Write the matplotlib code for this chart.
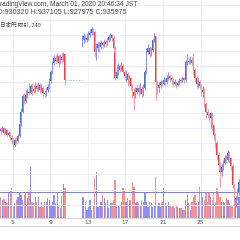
import numpy as np
import matplotlib.pyplot as plt
from matplotlib.lines import Line2D

# BTC/JPY, 4h bars, Feb 2020 (prices in thousand JPY), first bar opens Feb 3 16:00
start_day = 3 + 16 / 24
bar_days = 4 / 24

title = "TradingView.com, March 01, 2020 20:46:34 JST"
ohlc_text = "O:930320 H:937105 L:927975 C:935975"
symbol_text = "日本円 取引, 240"
day_ticks = [5, 9, 13, 17, 21, 25]

first_open = 1019
reopen = 1126  # first open after the data gap
gap_len = 10

closes_a = [1016, 1020, 1013, 1017, 1011, 1013, 1007, 1004, 998, 1004, 1003, 1010,
            1025, 1041, 1061, 1055, 1063, 1067, 1065, 1074, 1071, 1068, 1074, 1071,
            1076, 1069, 1072, 1065, 1064, 1069, 1073, 1081, 1093, 1104, 1111, 1107,
            1113, 1104, 1112, 1108, 1116, 1082]
highs_a = [1021, 1022, 1021, 1020, 1019, 1016, 1015, 1011, 1007, 1007, 1008, 1012,
           1028, 1046, 1064, 1065, 1069, 1072, 1078, 1077, 1078, 1076, 1080, 1077,
           1080, 1078, 1077, 1074, 1069, 1073, 1077, 1085, 1095, 1107, 1115, 1115,
           1117, 1115, 1116, 1119, 1119, 1117]
lows_a = [1012, 1015, 1011, 1012, 1008, 1008, 1004, 999, 991, 997, 999, 1002,
          1008, 1022, 1039, 1051, 1052, 1059, 1063, 1064, 1063, 1065, 1065, 1068,
          1068, 1065, 1067, 1061, 1060, 1061, 1067, 1071, 1078, 1090, 1102, 1103,
          1106, 1099, 1103, 1106, 1107, 1076]

closes_b = [1134, 1139, 1134, 1137, 1141, 1143, 1148, 1145, 1119, 1124, 1129, 1125,
            1130, 1128, 1131, 1129, 1134, 1138, 1141, 1137, 1124, 1085, 1093, 1100,
            1095, 1100, 1093, 1087, 1090, 1082, 1085, 1074, 1067, 1061, 1067, 1072,
            1067, 1071, 1064, 1072, 1093, 1119, 1124, 1116, 1121, 1134, 1139, 1080,
            1072, 1076, 1080, 1077, 1082, 1080, 1085, 1087, 1085, 1082, 1077, 1080,
            1076, 1078, 1082, 1081, 1085, 1082, 1106, 1107, 1106, 1108, 1104, 1095,
            1085, 1077, 1080, 1074, 1067, 1069, 1051, 1041, 1037, 1033, 1039, 1024,
            1011, 1000, 985, 972, 963, 969, 974, 981, 978, 987, 981, 971,
            946, 926, 929, 937, 950]
highs_b = [1141, 1143, 1142, 1143, 1146, 1148, 1151, 1150, 1147, 1130, 1132, 1133,
           1134, 1133, 1135, 1134, 1138, 1141, 1143, 1142, 1139, 1126, 1102, 1104,
           1103, 1106, 1103, 1095, 1095, 1093, 1089, 1086, 1077, 1072, 1073, 1077,
           1076, 1078, 1074, 1077, 1095, 1124, 1129, 1126, 1125, 1137, 1143, 1139,
           1082, 1080, 1082, 1082, 1086, 1085, 1089, 1093, 1090, 1087, 1085, 1084,
           1081, 1082, 1085, 1085, 1087, 1086, 1108, 1116, 1112, 1113, 1112, 1117,
           1098, 1089, 1085, 1082, 1077, 1074, 1072, 1054, 1045, 1041, 1041, 1039,
           1024, 1013, 1003, 989, 976, 974, 978, 985, 985, 991, 990, 982,
           973, 948, 932, 942, 954]
lows_b = [1125, 1130, 1131, 1131, 1134, 1138, 1141, 1141, 1112, 1108, 1119, 1119,
          1122, 1124, 1125, 1125, 1128, 1131, 1134, 1133, 1119, 1082, 1085, 1089,
          1093, 1095, 1090, 1082, 1080, 1074, 1077, 1069, 1059, 1043, 1059, 1064,
          1061, 1064, 1060, 1061, 1069, 1090, 1116, 1112, 1113, 1119, 1131, 1056,
          1064, 1067, 1072, 1074, 1076, 1074, 1077, 1082, 1080, 1077, 1073, 1076,
          1072, 1074, 1077, 1078, 1080, 1078, 1080, 1102, 1103, 1103, 1100, 1090,
          1080, 1072, 1072, 1071, 1061, 1060, 1047, 1033, 1033, 1028, 1020, 1017,
          1004, 994, 978, 965, 943, 958, 965, 972, 974, 977, 976, 965,
          942, 920, 917, 926, 933]

volumes_a = [2100, 1800, 1900, 1600, 1500, 2500, 2800, 3000, 1200, 1500, 1800, 2100,
             2500, 2300, 1800, 2300, 2500, 2000, 2500, 5100, 1600, 1500, 2100, 1600,
             2100, 1100, 1600, 1100, 1600, 1600, 2000, 1800, 1300, 1600, 2300, 1500,
             2500, 1100, 1000, 2200, 3400, 3000]
volumes_b = [2100, 2100, 1600, 800, 1100, 1800, 800, 1200, 4000, 4600, 1100, 1300,
             1600, 2300, 2000, 1500, 1800, 1000, 1500, 1500, 1800, 3800, 1100, 1200,
             1100, 1600, 3000, 2800, 1600, 2000, 1800, 1800, 3500, 3100, 1500, 1600,
             1500, 1300, 1800, 1600, 2600, 1600, 1100, 1600, 1500, 1100, 1200, 4100,
             1300, 1500, 1100, 1600, 3000, 1500, 1300, 1600, 1300, 1100, 1300, 1000,
             1300, 1100, 1000, 1000, 800, 800, 1800, 2300, 1500, 800, 1600, 2100,
             2300, 1500, 1600, 3100, 2500, 2100, 1800, 2500, 1600, 2500, 2100, 1800,
             2500, 1600, 3000, 2600, 2100, 1600, 1600, 1500, 2000, 1800, 1500, 1300,
             1300, 2500, 1800, 1500, 2100]
vol_line = 2650

gap = [np.nan] * gap_len
closes = np.array(closes_a + gap + closes_b, dtype=float)
highs = np.array(highs_a + gap + highs_b, dtype=float)
lows = np.array(lows_a + gap + lows_b, dtype=float)
volumes = np.array(volumes_a + gap + volumes_b, dtype=float)

opens = np.r_[first_open, closes[:-1]]
after_gap = len(closes_a) + gap_len
opens[after_gap] = reopen
highs = np.fmax(highs, np.fmax(opens, closes))
lows = np.fmin(lows, np.fmin(opens, closes))

t = start_day + np.arange(len(closes)) * bar_days + bar_days / 2
ok = ~np.isnan(closes)
up = closes >= opens

body_up, body_dn = "#3f74c0", "#ee3f4b"
wick_up, wick_dn = "#8f8ff2", "#f49aa1"
vol_up, vol_dn = "#8e8ef6", "#f79191"

fig = plt.figure(figsize=(2.4, 2.4), dpi=100)
fig.patch.set_facecolor("white")
rect = [0, 22 / 240, 1, 218 / 240]
ax_v = fig.add_axes(rect)
ax = fig.add_axes(rect, sharex=ax_v)
ax.patch.set_visible(False)

# volume pane
ax_v.bar(t[ok], volumes[ok], width=bar_days * 0.8, linewidth=0,
         color=np.where(up[ok], vol_up, vol_dn))
ax_v.axhline(vol_line, color="#8080ee", lw=0.8)
ax_v.set_ylim(0, 21800)
ax_v.set_yticks([])
ax_v.set_xticks(day_ticks)
ax_v.set_xticklabels([str(d) for d in day_ticks])
ax_v.grid(axis="x", color="#edf0f5", lw=0.7)
ax_v.set_axisbelow(True)
ax_v.tick_params(axis="x", length=0, pad=1.2, labelsize=4.2, labelcolor="#555555")
for s in ["top", "left", "right"]:
    ax_v.spines[s].set_visible(False)
ax_v.spines["bottom"].set_color("#d3d6dc")
ax_v.spines["bottom"].set_linewidth(0.8)

# price candles
ax.vlines(t[ok], lows[ok], highs[ok], colors=np.where(up[ok], wick_up, wick_dn), lw=0.7)
ax.bar(t[ok], closes[ok] - opens[ok], bottom=opens[ok], width=bar_days * 0.8,
       linewidth=0, color=np.where(up[ok], body_up, body_dn))

# dotted line across the missing bars
ax.hlines(closes[after_gap - gap_len - 1], t[after_gap - gap_len - 1], t[after_gap],
          colors="#9ed9b2", linestyles=(0, (1.2, 1.2)), lw=0.8)

ax.set_ylim(903.0, 1186.1)
ax.set_xlim(3.670, 29.202)
ax.set_yticks(np.arange(920, 1181, 20))
ax.grid(axis="y", color="#edf0f5", lw=0.7)
ax.set_axisbelow(True)
ax.tick_params(left=False, labelleft=False, bottom=False, labelbottom=False)
for s in ax.spines.values():
    s.set_visible(False)

fig.add_artist(Line2D([0, 1], [1 - 226 / 240] * 2, transform=fig.transFigure,
                      color="#d3d6dc", lw=0.8))

head = dict(color="#4a4a4a", va="center", family="Liberation Sans")
fig.text(-4.5 / 240, 1 - 5 / 240, title, fontsize=4.8, **head)
fig.text(-3 / 240, 1 - 12.5 / 240, ohlc_text, fontsize=5.1, **head)
fig.text(0, 1 - 24.5 / 240, symbol_text, fontsize=4.0, color="#4a4a4a", va="center",
         family=["Noto Sans CJK JP", "DejaVu Sans"])

fig.savefig("out.png", dpi=100)
